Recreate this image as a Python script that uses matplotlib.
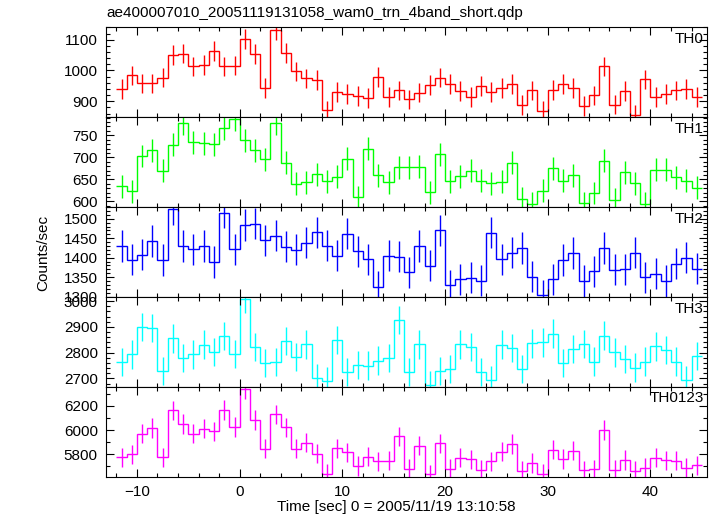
import numpy as np
import matplotlib
matplotlib.use('Agg')
import matplotlib.pyplot as plt
from matplotlib.ticker import MultipleLocator

plt.rcParams['font.family'] = ['Liberation Sans', 'DejaVu Sans']
plt.rcParams['font.size'] = 11

# 1 s bins from -12 to 45 s
edges = np.arange(-12, 46)
centers = edges[:-1] + 0.5

th0 = [939, 984, 958, 958, 977, 1050, 1055, 1013, 1017, 1064, 1013, 1016,
       1103, 1054, 942, 1132, 1056, 997, 974, 969, 870, 930, 923, 916, 910,
       978, 914, 935, 906, 928, 953, 977, 957, 933, 913, 949, 930, 942, 956,
       887, 935, 869, 936, 956, 942, 885, 919, 1013, 889, 934, 855, 971, 913,
       924, 935, 939, 913]
th1 = [634, 623, 703, 716, 670, 729, 777, 734, 732, 730, 766, 786,
       739, 716, 696, 777, 688, 640, 643, 662, 646, 656, 697, 610, 720,
       659, 643, 677, 677, 679, 621, 707, 646, 657, 670, 647, 641, 645, 688,
       606, 595, 624, 675, 647, 659, 596, 619, 692, 604, 666, 641, 595, 672,
       672, 655, 647, 631]
th2 = [1430, 1395, 1408, 1443, 1394, 1524, 1430, 1422, 1430, 1389, 1516, 1422,
       1484, 1487, 1445, 1457, 1428, 1420, 1438, 1465, 1431, 1405, 1462, 1417, 1396,
       1325, 1405, 1402, 1363, 1430, 1379, 1470, 1329, 1345, 1349, 1341, 1464, 1396, 1413,
       1425, 1351, 1303, 1345, 1394, 1412, 1340, 1365, 1425, 1369, 1370, 1413, 1350, 1359,
       1340, 1385, 1400, 1372]
th3 = [2764, 2793, 2899, 2895, 2729, 2855, 2780, 2793, 2831, 2803, 2864, 2795,
       3007, 2822, 2759, 2763, 2845, 2784, 2832, 2702, 2688, 2849, 2724, 2751, 2750,
       2769, 2780, 2927, 2726, 2832, 2674, 2730, 2737, 2832, 2822, 2724, 2694, 2831, 2819,
       2737, 2836, 2840, 2874, 2759, 2813, 2834, 2765, 2866, 2801, 2775, 2742, 2765, 2824,
       2811, 2765, 2694, 2788]
th0123 = [5776, 5800, 5971, 6018, 5776, 6162, 6050, 5971, 6012, 5990, 6165, 6026,
          6336, 6083, 5846, 6129, 6023, 5846, 5895, 5805, 5639, 5849, 5816, 5705, 5781,
          5743, 5748, 5947, 5678, 5871, 5634, 5890, 5678, 5773, 5759, 5673, 5743, 5822, 5884,
          5664, 5727, 5642, 5838, 5762, 5830, 5667, 5675, 6001, 5673, 5754, 5661, 5686, 5773,
          5751, 5748, 5686, 5710]

names = ['TH0', 'TH1', 'TH2', 'TH3', 'TH0123']
series = [th0, th1, th2, th3, th0123]
errors = [32, 26, 40, 55, 80]
colors = ['#ff0000', '#00ff00', '#0000ff', '#00ffff', '#ff00ff']
ylims = [(848, 1140), (587, 791), (1299, 1530), (2667, 3016), (5615, 6355)]
majors = [100, 50, 50, 100, 200]
minors = [20, 10, 10, 20, 100]

fig, axes = plt.subplots(5, 1, sharex=True, figsize=(7.17, 5.16), dpi=100)
fig.subplots_adjust(left=0.148, right=0.986, top=0.947, bottom=0.076, hspace=0)

for ax, name, vals, err, col, yl, mj, mn in zip(axes, names, series, errors,
                                                 colors, ylims, majors, minors):
    ax.stairs(vals, edges, baseline=None, color=col, lw=1)
    ax.errorbar(centers, vals, yerr=err, fmt='none', ecolor=col, elinewidth=1)
    ax.set_ylim(*yl)
    ax.yaxis.set_major_locator(MultipleLocator(mj))
    ax.yaxis.set_minor_locator(MultipleLocator(mn))
    ax.xaxis.set_major_locator(MultipleLocator(10))
    ax.xaxis.set_minor_locator(MultipleLocator(2))
    ax.tick_params(which='both', direction='in', top=True, right=True,
                   labelsize=11, pad=6)
    ax.tick_params(which='major', length=6, width=0.8)
    ax.tick_params(which='minor', length=3, width=0.8)
    ax.text(0.995, 0.95, name, transform=ax.transAxes, ha='right', va='top',
            fontsize=11)

axes[-1].set_xlim(-13, 45.5)

fig.text(0.149, 0.975, 'ae400007010_20051119131058_wam0_trn_4band_short.qdp',
         ha='left', va='center', fontsize=11)
fig.text(0.553, 0.017, 'Time [sec] 0 = 2005/11/19 13:10:58',
         ha='center', va='center', fontsize=11)
fig.text(0.06, 0.51, 'Counts/sec', rotation=90, ha='center', va='center',
         fontsize=11)

fig.savefig('out.png', dpi=100)
